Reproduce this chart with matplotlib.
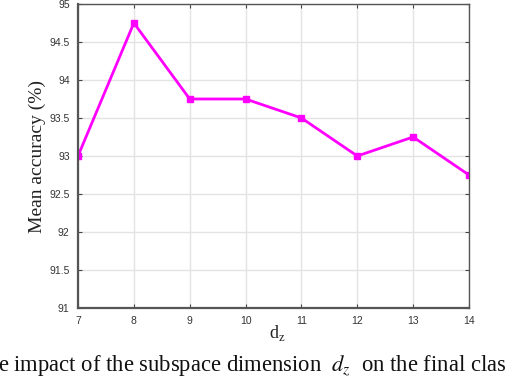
import matplotlib
matplotlib.use("Agg")
import matplotlib.pyplot as plt

dz = [7, 8, 9, 10, 11, 12, 13, 14]
acc = [93.0, 94.75, 93.75, 93.75, 93.5, 93.0, 93.25, 92.75]
yticks = [91, 91.5, 92, 92.5, 93, 93.5, 94, 94.5, 95]
ytick_labels = ["91", "91.5", "92", "92.5", "93", "93.5", "94", "94.5", "95"]

W, H = 510, 382
fig = plt.figure(figsize=(W / 100, H / 100), dpi=100)
ax = fig.add_axes([78 / W, 1 - 308 / H, (469 - 78) / W, (308 - 4) / H])

ax.plot(dz, acc, color="#ff00ff", lw=2.0, marker="s", ms=5, mfc="#ff00ff", mec="#ff00ff")
ax.set_xlim(7, 14)
ax.set_ylim(91, 95)
ax.set_xticks(dz)
ax.set_yticks(yticks)
ax.set_yticklabels(ytick_labels)
ax.grid(True, color="#e3e3e3", lw=1)
ax.set_axisbelow(True)
tickfont = ["Liberation Sans Narrow", "Liberation Sans", "DejaVu Sans"]
for lab in ax.get_xticklabels() + ax.get_yticklabels():
    lab.set_family(tickfont)
    lab.set_fontsize(7.5)
    lab.set_color("#333333")
ax.tick_params(direction="in", length=3, color="#444444", width=0.8, pad=6)
ax.tick_params(top=True, right=True)
for s in ["left", "bottom"]:
    ax.spines[s].set_linewidth(1.6)
    ax.spines[s].set_color("#555555")
for s in ["top", "right"]:
    ax.spines[s].set_linewidth(1.0)
    ax.spines[s].set_color("#555555")

fig.text(37 / W, 1 - 157 / H, "Mean accuracy (%)", family="Liberation Serif", fontsize=14,
         color="#222222", rotation=90, ha="center", va="center")
fig.text(277 / W, 1 - 333 / H, r"d$_\mathregular{z}$", family="Liberation Serif", fontsize=13,
         color="#222222", ha="center", va="center")

fig.text(-0.003, 1 - 366 / H, r"e impact of the subspace dimension  $\mathit{d}_z$  on the final clas",
         family="Liberation Serif", fontsize=16.3, va="center", ha="left", color="#111111",
         math_fontfamily="stix")

fig.savefig("out.png", dpi=100)
